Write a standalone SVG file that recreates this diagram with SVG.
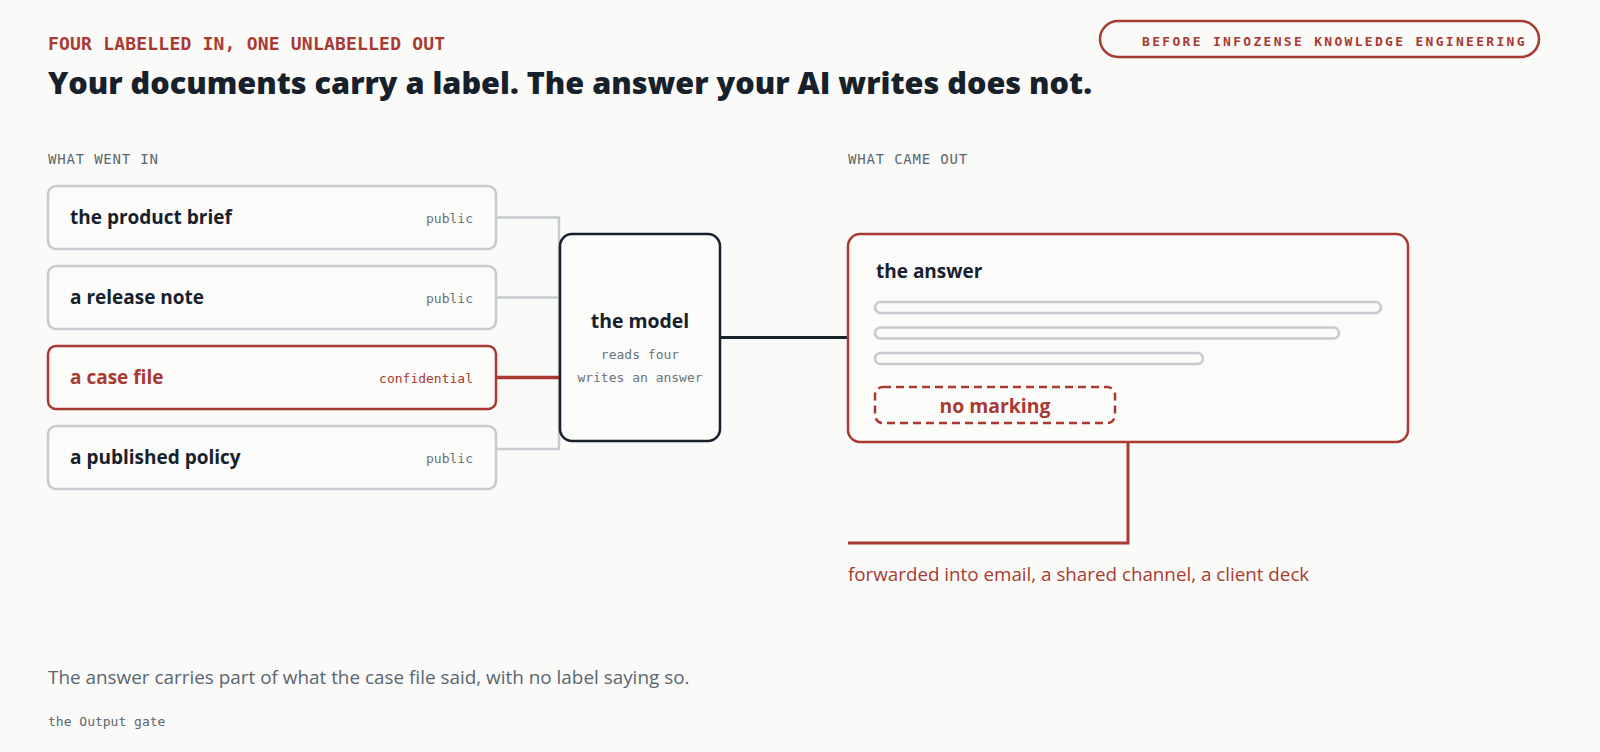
<svg xmlns="http://www.w3.org/2000/svg" width="1600" height="752" viewBox="0 0 1600 752">
<style>
.mono{font-family:"DejaVu Sans Mono","Liberation Mono",monospace}
.sans{font-family:"Open Sans","Noto Sans","Liberation Sans",sans-serif}
.box{fill:#fbfbf9;stroke:#c5cbce;stroke-width:2.5}
.red{fill:#fbfbf9;stroke:#a83a32;stroke-width:2.5}
.lbl{font-family:"Open Sans","Noto Sans","Liberation Sans",sans-serif;font-weight:700;font-size:19px;fill:#17212b}
.tag{font-family:"DejaVu Sans Mono","Liberation Mono",monospace;font-size:13px;fill:#6a737b;text-anchor:end}
.bar{fill:none;stroke:#c5cbce;stroke-width:2.5}
</style>
<rect width="1600" height="752" fill="#fafaf8"/>
<text class="mono" x="48" y="50" font-size="18" font-weight="700" fill="#a83a32" letter-spacing="0.2">FOUR LABELLED IN, ONE UNLABELLED OUT</text>
<text class="sans" x="48" y="94" font-size="30.6" font-weight="800" fill="#17212b">Your documents carry a label. The answer your AI writes does not.</text>
<g id="badge">
<rect x="1100" y="21" width="439" height="36" rx="18" fill="none" stroke="#a83a32" stroke-width="2.5"/>
<text class="mono" x="1142" y="46" font-size="13" font-weight="700" fill="#a83a32" letter-spacing="2.3">BEFORE INFOZENSE KNOWLEDGE ENGINEERING</text>
</g>
<text class="mono" x="48" y="164" font-size="14" fill="#5b6670" letter-spacing="0.8">WHAT WENT IN</text>
<text class="mono" x="848" y="164" font-size="14" fill="#5b6670" letter-spacing="0.8">WHAT CAME OUT</text>
<g id="connectors" fill="none">
<path d="M496 217.5H559V449H496M496 297.5H559" stroke="#c5cbce" stroke-width="2.5"/>
<path d="M496 377.5H560" stroke="#a83a32" stroke-width="3.5"/>
<path d="M720 337.5H848" stroke="#17212b" stroke-width="3"/>
<path d="M1128 442V543H848" stroke="#a83a32" stroke-width="3"/>
</g>
<g id="in-brief">
<rect class="box" x="48" y="186" width="448" height="63" rx="8"/>
<text class="lbl" x="70" y="224">the product brief</text>
<text class="tag" x="473" y="223">public</text>
</g>
<g id="in-release">
<rect class="box" x="48" y="266" width="448" height="63" rx="8"/>
<text class="lbl" x="70" y="304">a release note</text>
<text class="tag" x="473" y="303">public</text>
</g>
<g id="in-case">
<rect class="red" x="48" y="346" width="448" height="63" rx="8"/>
<text class="lbl" x="70" y="384" style="fill:#a83a32">a case file</text>
<text class="tag" x="473" y="383" style="fill:#a83a32">confidential</text>
</g>
<g id="in-policy">
<rect class="box" x="48" y="426" width="448" height="63" rx="8"/>
<text class="lbl" x="70" y="464">a published policy</text>
<text class="tag" x="473" y="463">public</text>
</g>
<g id="model">
<rect x="560" y="234" width="160" height="207" rx="12" fill="#fbfbf9" stroke="#17212b" stroke-width="2.5"/>
<text class="lbl" x="640" y="328" text-anchor="middle" style="font-size:19.4px">the model</text>
<text class="mono" x="640" y="359" font-size="13" fill="#6a737b" text-anchor="middle">reads four</text>
<text class="mono" x="640" y="382" font-size="13" fill="#6a737b" text-anchor="middle">writes an answer</text>
</g>
<g id="answer">
<rect class="red" x="848" y="234" width="560" height="208" rx="12"/>
<text class="lbl" x="876" y="278">the answer</text>
<rect class="bar" x="875" y="302" width="506" height="11" rx="5.5"/>
<rect class="bar" x="875" y="327.5" width="464" height="11" rx="5.5"/>
<rect class="bar" x="875" y="353" width="328" height="11" rx="5.5"/>
<rect x="875" y="387" width="240" height="36" rx="8" fill="none" stroke="#a83a32" stroke-width="2.5" stroke-dasharray="8 5"/>
<text class="lbl" x="995" y="413" text-anchor="middle" style="fill:#a83a32;font-size:19.4px">no marking</text>
</g>
<text class="sans" x="848" y="581" font-size="18.8" fill="#a83a32">forwarded into email, a shared channel, a client deck</text>
<text class="sans" x="48" y="684" font-size="18.9" fill="#5b6670">The answer carries part of what the case file said, with no label saying so.</text>
<text class="mono" x="48" y="726" font-size="13" fill="#5b6670">the Output gate</text>
</svg>
